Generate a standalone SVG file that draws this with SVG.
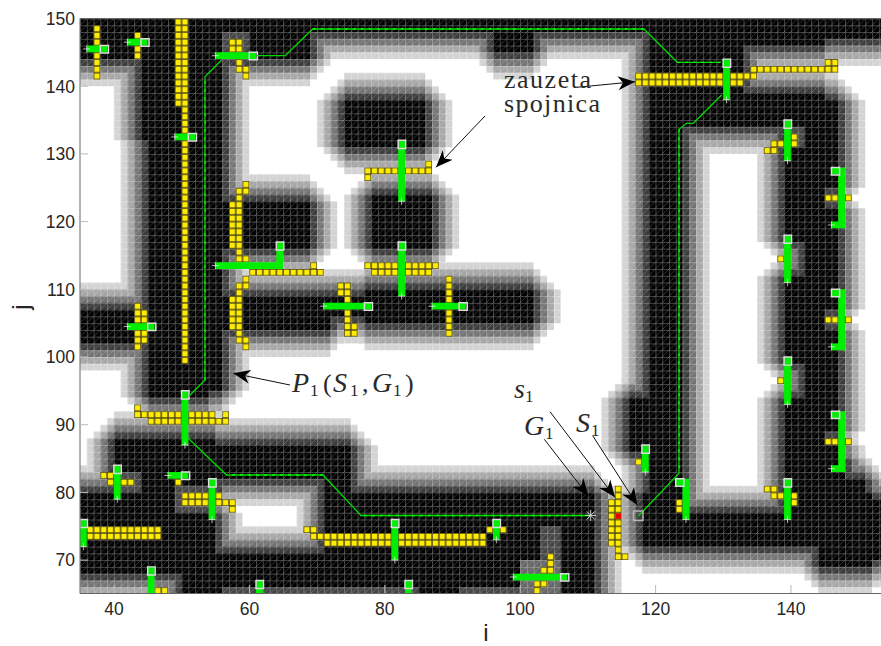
<svg xmlns="http://www.w3.org/2000/svg" xmlns:xlink="http://www.w3.org/1999/xlink" width="881" height="646" viewBox="0 0 881 646">
<style>
.tick{font-family:"Liberation Sans",Arial,sans-serif;font-size:17.5px;fill:#262626}
.ax{font-family:"Liberation Sans",Arial,sans-serif;font-size:24px;fill:#262626}
.tx{font-family:"Liberation Serif","Times New Roman",serif;font-size:26px;fill:#2a2a2a}
.it{font-style:italic;font-size:28px}
.sub{font-size:17px;font-style:normal}
.route{fill:none;stroke:#00d800;stroke-width:1.3}
.dash{fill:none;stroke:#00ff00;stroke-width:1.3;stroke-dasharray:3 5}
.arrow{fill:none;stroke:#111;stroke-width:1;marker-end:url(#head)}
.bot{fill:#00ee00}
.headbox{fill:none;stroke:#ddd;stroke-width:.22}
.tail{fill:none;stroke:#fff;stroke-width:.1}
</style>
<defs>
<clipPath id="plot"><rect x="0" y="0" width="118.3" height="85"/></clipPath>
<pattern id="grid" width="1" height="1" patternUnits="userSpaceOnUse"><path d="M0 0H1M0 0V1" fill="none" stroke="#fff" stroke-opacity=".27" stroke-width=".3"/><path d="M0 1L1 0" fill="none" stroke="#fff" stroke-opacity=".3" stroke-width=".1"/></pattern>
<pattern id="yc" width="1" height="1" patternUnits="userSpaceOnUse"><rect width="1" height="1" fill="#4a4520"/><rect x=".11" y=".11" width=".79" height=".79" fill="#ffec00"/></pattern>
<marker id="head" markerUnits="userSpaceOnUse" markerWidth="20" markerHeight="16" refX="17" refY="7" orient="auto" viewBox="0 0 20 14"><path d="M17 7L0 0L5 7L0 14Z" fill="#000"/></marker>
<path id="core" d="M0 0H34V6H0ZM34 0H84V2H34ZM61 0H67V5H61ZM84 0H110V4H84ZM110 0H125V3H110ZM9 0H21V18H9ZM10 18H21V55H10ZM10 55H19V56H10ZM0 43H10V48H0ZM21 27H34V34H21ZM21 41H37V46H21ZM37 41H42V44H37ZM42 40H67V45H42ZM39 12H51V19H39ZM43 26H52V34H43ZM5 62H20V70H5ZM0 70H15V82H0ZM15 70H19V85H15ZM19 73H20V85H19ZM20 79H36V85H20ZM36 70H76V85H36ZM36 63H40V70H36ZM20 63H36V68H20ZM84 0H98V16H84ZM98 11H110V16H98ZM84 16H89V73H84ZM81 56H84V64H81ZM83 70H84V78H83ZM84 73H116V78H84ZM109 71H117V81H109ZM117 71H125V80H117ZM104 68H116V73H104ZM116 70H117V73H116ZM104 12H112V25H104ZM104 25H110V28H104ZM104 28H112V33H104ZM107 33H112V38H107ZM104 38H112V43H104ZM104 43H110V46H104ZM104 46H112V51H104ZM107 51H112V56H107ZM104 56H112V61H104ZM104 61H110V63H104ZM104 63H112V68H104ZM112 65H113V68H112Z"/>
<g id="b1"><use href="#core"/><use href="#core" x="1"/><use href="#core" x="-1"/><use href="#core" y="1"/><use href="#core" y="-1"/></g>
<g id="b2"><use href="#b1"/><use href="#core" x="2"/><use href="#core" x="-2"/><use href="#core" y="2"/><use href="#core" y="-2"/><use href="#core" x="1" y="1"/><use href="#core" x="1" y="-1"/><use href="#core" x="-1" y="1"/><use href="#core" x="-1" y="-1"/></g>
<g id="b3"><use href="#b2"/><use href="#core" x="3"/><use href="#core" x="-3"/><use href="#core" y="3"/><use href="#core" y="-3"/><use href="#core" x="2" y="1"/><use href="#core" x="2" y="-1"/><use href="#core" x="-2" y="1"/><use href="#core" x="-2" y="-1"/><use href="#core" x="1" y="2"/><use href="#core" x="1" y="-2"/><use href="#core" x="-1" y="2"/><use href="#core" x="-1" y="-2"/></g>
<g id="b4"><use href="#b3"/><use href="#core" x="4"/><use href="#core" x="-4"/><use href="#core" y="4"/><use href="#core" y="-4"/><use href="#core" x="3" y="1"/><use href="#core" x="3" y="-1"/><use href="#core" x="-3" y="1"/><use href="#core" x="-3" y="-1"/><use href="#core" x="1" y="3"/><use href="#core" x="1" y="-3"/><use href="#core" x="-1" y="3"/><use href="#core" x="-1" y="-3"/><use href="#core" x="2" y="2"/><use href="#core" x="2" y="-2"/><use href="#core" x="-2" y="2"/><use href="#core" x="-2" y="-2"/></g>
</defs>
<rect width="881" height="646" fill="#fff"/>
<g transform="translate(80 18.5) scale(6.77)">
<g clip-path="url(#plot)">
<use href="#b4" fill="#d2d2d2"/>
<use href="#b3" fill="#a6a6a6"/>
<use href="#b2" fill="#747474"/>
<use href="#b1" fill="#3c3c3c"/>
<use href="#core" fill="#000"/>
<path fill="#444" d="M21 2H25V6H21ZM5 67H9V70H5ZM14 69H19V73H14ZM21 84H50V85H21ZM56 84H65V85H56ZM68 75H71V80H68ZM105 16H107V19H105Z"/>
<path fill="#666" d="M65 80H71V85H65Z"/>
<rect width="118.3" height="85" fill="url(#grid)"/>
<path id="occupied" fill="url(#yc)" d="M2 1H3V9H2ZM8 2H9V6H8ZM14 0H15V13H14ZM15 0H16V51H15ZM22 3H24V5H22ZM23 6H24V7H23ZM23 7H25V8H23ZM24 8H25V9H24ZM24 24H25V25H24ZM23 25H25V26H23ZM23 26H24V27H23ZM22 27H24V34H22ZM23 34H24V35H23ZM23 35H25V36H23ZM25 37H36V38H25ZM34 36H35V37H34ZM24 38H25V39H24ZM23 39H25V40H23ZM23 40H24V41H23ZM22 41H24V46H22ZM23 46H24V47H23ZM23 47H25V48H23ZM24 48H25V49H24ZM8 42H9V43H8ZM8 43H10V48H8ZM8 48H9V49H8ZM38 39H40V41H38ZM39 41H40V45H39ZM39 45H41V47H39ZM54 38H55V47H54ZM42 36H53V37H42ZM43 37H52V38H43ZM42 22H52V23H42ZM51 21H52V22H51ZM42 23H43V24H42ZM82 8H100V9H82ZM82 9H98V10H82ZM99 7H112V8H99ZM110 6H112V7H110ZM105 17H106V18H105ZM102 18H106V19H102ZM101 19H103V20H101ZM110 26H114V27H110ZM103 35H104V36H103ZM110 44H114V45H110ZM103 53H104V54H103ZM110 62H114V63H110ZM101 69H103V70H101ZM102 70H106V71H102ZM105 71H106V72H105ZM88 71H89V73H88ZM82 65H83V66H82ZM79 69H80V71H79ZM78 71H80V78H78ZM79 78H80V79H79ZM79 79H81V80H79ZM33 75H35V76H33ZM34 76H60V77H34ZM36 77H60V78H36ZM60 75H63V76H60ZM69 79H70V81H69ZM68 81H70V82H68ZM67 83H69V84H67ZM67 84H68V85H67ZM11 84H13V85H11ZM8 57H9V58H8ZM8 58H20V59H8ZM21 58H22V59H21ZM10 59H22V60H10ZM3 67H5V68H3ZM4 68H8V69H4ZM14 68H15V69H14ZM15 70H21V71H15ZM15 71H23V72H15ZM22 72H23V73H22ZM1 75H12V77H1Z"/>
<rect x="79.11" y="73.11" width=".79" height=".79" fill="#f00000"/>
<path id="robots" class="bot" d="M1 4H4V5H1ZM7 3H10V4H7ZM14 17H17V18H14ZM20 5H26V6H20ZM20 36H30V37H20ZM29 33H30V36H29ZM7 45H11V46H7ZM36 42H43V43H36ZM47 33H48V41H47ZM52 42H57V43H52ZM47 18H48V27H47ZM95 6H96V12H95ZM104 15H105V21H104ZM111 22H113V23H111ZM112 22H113V31H112ZM111 30H113V31H111ZM104 32H105V39H104ZM111 40H113V41H111ZM112 40H113V49H112ZM111 48H113V49H111ZM104 50H105V57H104ZM111 58H113V59H111ZM112 58H113V67H112ZM111 66H113V67H111ZM104 68H105V74H104ZM88 68H90V69H88ZM89 68H90V74H89ZM83 63H84V67H83ZM46 74H47V80H46ZM61 74H62V77H61ZM64 82H72V83H64ZM48 83H49V85H48ZM15 55H16V63H15ZM5 66H6V71H5ZM13 67H16V68H13ZM19 68H20V74H19ZM0 74H1V78H0ZM10 81H11V85H10ZM26 83H27V85H26Z"/>
<path class="headbox" d="M3 4h1.2v1.1h-1.2ZM9 3h1.2v1.1h-1.2ZM16 17h1.2v1.1h-1.2ZM25 5h1.2v1.1h-1.2ZM29 33h1.1v1.2h-1.1ZM10 45h1.2v1.1h-1.2ZM42 42h1.2v1.1h-1.2ZM47 33h1.1v1.2h-1.1ZM56 42h1.2v1.1h-1.2ZM47 18h1.1v1.2h-1.1ZM95 6h1.1v1.2h-1.1ZM104 15h1.1v1.2h-1.1ZM111 22h1.2v1.1h-1.2ZM104 32h1.1v1.2h-1.1ZM111 40h1.2v1.1h-1.2ZM104 50h1.1v1.2h-1.1ZM111 58h1.2v1.1h-1.2ZM104 68h1.1v1.2h-1.1ZM88 68h1.2v1.1h-1.2ZM83 63h1.1v1.2h-1.1ZM46 74h1.1v1.2h-1.1ZM61 74h1.1v1.2h-1.1ZM71 82h1.2v1.1h-1.2ZM48 83h1.1v1.2h-1.1ZM15 55h1.1v1.2h-1.1ZM5 66h1.1v1.2h-1.1ZM15 67h1.2v1.1h-1.2ZM19 68h1.1v1.2h-1.1ZM0 74h1.1v1.2h-1.1ZM10 81h1.1v1.2h-1.1ZM26 83h1.1v1.2h-1.1Z"/>
<path class="tail" d="M.5 4.5h1M1 4v1M6.5 3.5h1M7 3v1M13.5 17.5h1M14 17v1M19.5 5.5h1M20 5v1M19.5 36.5h1M20 36v1M6.5 45.5h1M7 45v1M35.5 42.5h1M36 42v1M47 41h1M47.5 40.5v1M51.5 42.5h1M52 42v1M47 27h1M47.5 26.5v1M95 12h1M95.5 11.5v1M104 21h1M104.5 20.5v1M110.5 30.5h1M111 30v1M104 39h1M104.5 38.5v1M110.5 48.5h1M111 48v1M104 57h1M104.5 56.5v1M110.5 66.5h1M111 66v1M104 74h1M104.5 73.5v1M89 74h1M89.5 73.5v1M83 67h1M83.5 66.5v1M46 80h1M46.5 79.5v1M61 77h1M61.5 76.5v1M63.5 82.5h1M64 82v1M15 63h1M15.5 62.5v1M5 71h1M5.5 70.5v1M12.5 67.5h1M13 67v1M19 74h1M19.5 73.5v1M0 78h1M.5 77.5v1"/>
</g>
</g>
<g id="axes" fill="none" stroke="#666" stroke-width="1">
<path d="M80 593.5V18.5H881M80 593.5H881"/>
<path stroke="#bbb" d="M80 86.2h8M80 153.9h8M80 221.6h8M80 289.3h8M80 357h8M80 424.7h8M80 492.4h8M80 560.1h8M114 593v-8M249.4 593v-8M384.8 593v-8M520.2 593v-8M655.6 593v-8M791 593v-8"/>
</g>
<g id="connectors">
<path class="route" d="M590.7 515.5H361L323 475H226.5L188 438M189 396L205 380V76.7L221.7 60M256.7 55.7H285L312.7 29H644L677.3 62.3H720.7M721.7 95L693.3 123.3H686.7L679 129.3V473.3L638.3 516"/>
<path class="dash" d="M590.7 515.5H361M323 475H226.5M205 380V76.7M312.7 29H644M677.3 62.3H720.7M679 129.3V473.3"/>
<path class="arrow" d="M576.7 87.3L635 81.7"/>
<path class="arrow" d="M485 116L436 167.3"/>
<path class="arrow" d="M290 385L233.3 373.3"/>
<path class="arrow" d="M544.3 439.3L588.3 496"/>
<path class="arrow" d="M550 411.7L615 497.3"/>
<path class="arrow" d="M592.7 435.7L637.3 505"/>
<path d="M585 515.4h11.4M590.7 510v11M586.7 511.4l8 8M594.7 511.4l-8 8" fill="none" stroke="#ccc" stroke-width="1"/>
<rect x="633.5" y="511" width="9.5" height="9.5" fill="none" stroke="#b4b4b4" stroke-width="1.5"/>
</g>
<g id="labels">
<text class="tick" x="75" y="25" text-anchor="end">150</text>
<text class="tick" x="75" y="92.5" text-anchor="end">140</text>
<text class="tick" x="75" y="160" text-anchor="end">130</text>
<text class="tick" x="75" y="228" text-anchor="end">120</text>
<text class="tick" x="75" y="295.5" text-anchor="end">110</text>
<text class="tick" x="75" y="363" text-anchor="end">100</text>
<text class="tick" x="75" y="431" text-anchor="end">90</text>
<text class="tick" x="75" y="498.5" text-anchor="end">80</text>
<text class="tick" x="75" y="566" text-anchor="end">70</text>
<text class="tick" x="114" y="615" text-anchor="middle">40</text>
<text class="tick" x="249.4" y="615" text-anchor="middle">60</text>
<text class="tick" x="384.8" y="615" text-anchor="middle">80</text>
<text class="tick" x="520.2" y="615" text-anchor="middle">100</text>
<text class="tick" x="655.6" y="615" text-anchor="middle">120</text>
<text class="tick" x="791" y="615" text-anchor="middle">140</text>
<text class="ax" x="486" y="640.5" text-anchor="middle">i</text>
<text class="ax" transform="translate(29 307) rotate(-90)" text-anchor="middle">j</text>
<text class="tx" x="504" y="88" textLength="87" lengthAdjust="spacing">zauzeta</text>
<text class="tx" x="504" y="111.5" textLength="96" lengthAdjust="spacing">spojnica</text>
<text class="tx it" x="292" y="392">P</text><text class="tx sub" x="310" y="396">1</text>
<text class="tx" x="323" y="392">(</text>
<text class="tx it" x="333" y="392">S</text><text class="tx sub" x="350" y="396">1</text>
<text class="tx" x="362" y="392">,</text>
<text class="tx it" x="372" y="392">G</text><text class="tx sub" x="393" y="396">1</text>
<text class="tx" x="405" y="392">)</text>
<text class="tx it" x="514" y="398">s</text><text class="tx sub" x="525" y="402">1</text>
<text class="tx it" x="524" y="435">G</text><text class="tx sub" x="545" y="439">1</text>
<text class="tx it" x="576" y="432">S</text><text class="tx sub" x="591" y="436">1</text>
</g>
</svg>
